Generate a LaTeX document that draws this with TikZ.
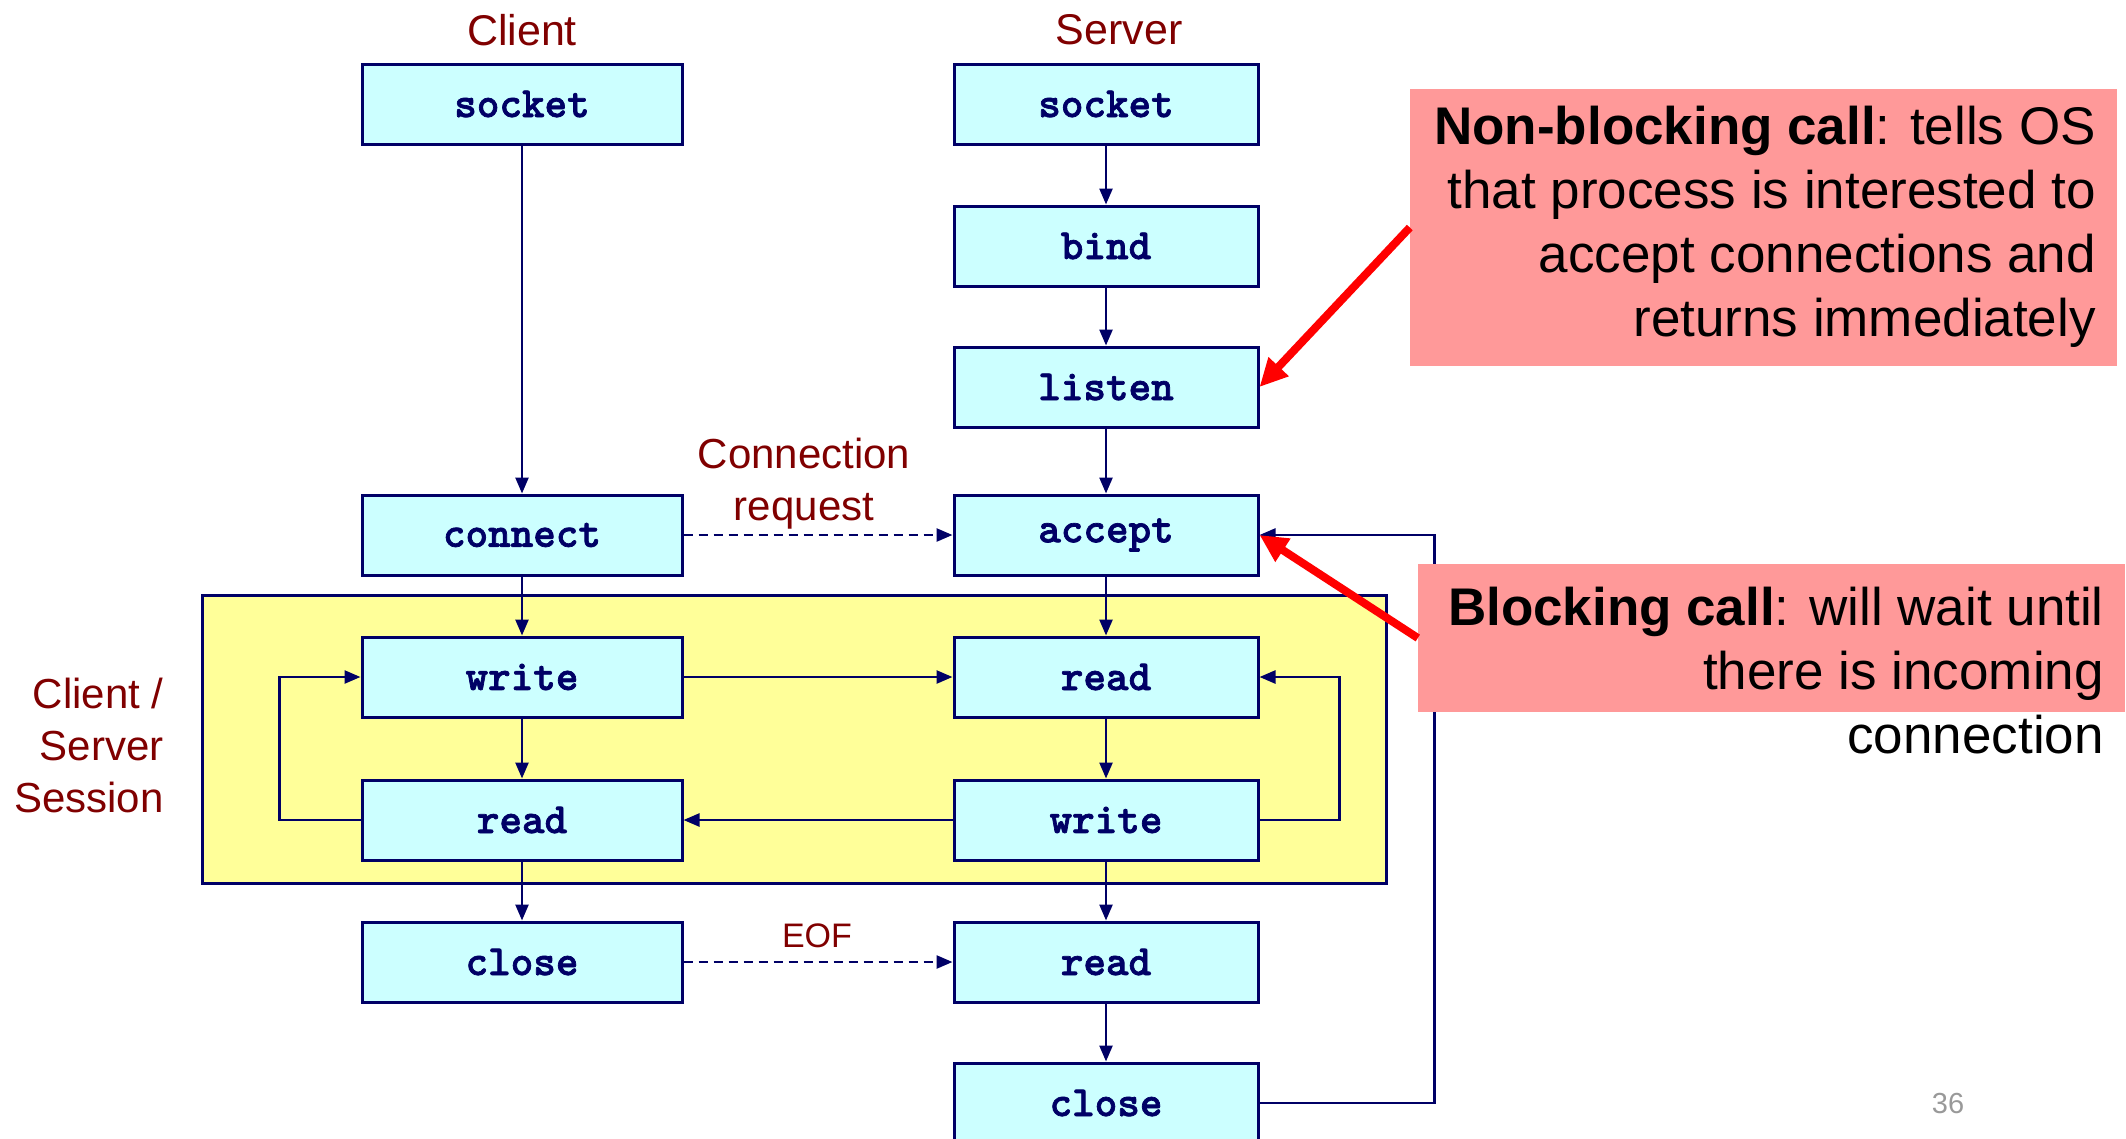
\documentclass[tikz,border=0pt]{standalone}
\usepackage{fontspec}
\setmainfont{Liberation Sans}
\setmonofont{Liberation Mono}
\newfontfamily\codefont{Latin Modern Mono Light}[BoldFeatures={FakeBold=1.6}]
\usetikzlibrary{arrows.meta}
\definecolor{navy}{HTML}{000066}
\definecolor{boxfill}{HTML}{CCFFFF}
\definecolor{sessionfill}{HTML}{FFFF99}
\definecolor{darkred}{HTML}{800000}
\definecolor{calloutfill}{HTML}{FF9999}
\definecolor{pagegray}{HTML}{999999}

\begin{document}
\begin{tikzpicture}[x=1pt,y=-1pt,
  callbox/.style={draw=navy, line width=3pt, fill=boxfill, minimum width=320pt,
    minimum height=80pt, inner sep=0pt, text=navy,
    font=\fontsize{43}{45}\selectfont\codefont\bfseries},
  srvbox/.style={callbox, minimum width=304pt},
  flow/.style={draw=navy, line width=2.5pt, -{Triangle[length=16pt,width=13pt]}},
  msg/.style={flow, dash pattern=on 9pt off 6pt},
  title/.style={text=darkred, font=\fontsize{43}{50}\selectfont},
  note/.style={text=darkred, font=\fontsize{42}{52}\selectfont, align=center},
  callbg/.style={fill=calloutfill, minimum width=707pt, inner sep=0pt},
  callout/.style={font=\fontsize{53}{64}\selectfont, align=right, inner sep=0pt, anchor=east},
  pointer/.style={draw=red, line width=8pt, -{Triangle[length=28pt,width=26pt]}}
]
\useasboundingbox (0,0) rectangle (2126,1138);

% session area behind the exchange loop
\node[draw=navy, line width=3pt, fill=sessionfill, minimum width=1184pt,
  minimum height=288pt, inner sep=0pt] (session) at (794,739) {};

% column headings
\node[title] (clienthead) at (522,30) {Client};
\node[title] (serverhead) at (1119,30) {Server};

% client calls
\node[callbox] (csocket)  at (522,104)  {socket};
\node[callbox] (connect)  at (522,535)  {connect};
\node[callbox] (cwrite)   at (522,677)  {write};
\node[callbox] (cread)    at (522,820)  {read};
\node[callbox] (cclose)   at (522,962)  {close};

% server calls
\node[srvbox] (ssocket) at (1106,104)  {socket};
\node[srvbox] (bind)    at (1106,246)  {bind};
\node[srvbox] (listen)  at (1106,387)  {listen};
\node[srvbox] (accept)  at (1106,535)  {accept};
\node[srvbox] (sread)   at (1106,677)  {read};
\node[srvbox] (swrite)  at (1106,820)  {write};
\node[srvbox] (seof)    at (1106,962)  {read};
\node[srvbox] (sclose)  at (1106,1103) {close};

% labels
\node[note] (connreq) at (804,484) {Connection\\request};
\node[text=darkred, font=\fontsize{34}{40}\selectfont] (eof) at (817,936) {EOF};
\node[note, align=right, anchor=east] (sesslabel) at (167,745) {Client /\\Server\\Session};
\node[text=pagegray, font=\fontsize{29}{34}\selectfont] (pagenum) at (1948,1104) {36};

% client flow
\draw[flow] (csocket) -- (connect);
\draw[flow] (connect) -- (cwrite);
\draw[flow] (cwrite) -- (cread);
\draw[flow] (cread) -- (cclose);
\draw[flow] (cread.west) -- ++(-81,0) |- (cwrite.west);

% server flow
\draw[flow] (ssocket) -- (bind);
\draw[flow] (bind) -- (listen);
\draw[flow] (listen) -- (accept);
\draw[flow] (accept) -- (sread);
\draw[flow] (sread) -- (swrite);
\draw[flow] (swrite) -- (seof);
\draw[flow] (seof) -- (sclose);
\draw[flow] (swrite.east) -- ++(80,0) |- (sread.east);
\draw[flow] (sclose.east) -- ++(175,0) |- (accept.east);

% messages between the two sides
\draw[msg] (connect) -- (accept);
\draw[flow] (cwrite) -- (sread);
\draw[flow] (swrite) -- (cread);
\draw[msg] (cclose) -- (seof);

% callouts
\node[callbg, minimum height=277pt] (nbbg) at (1763.5,227.5) {};
\node[callout] (nonblock) at (2096,226.5)
  {\textbf{Non-blocking call}: tells OS\\that process is interested to\\accept connections and\\returns immediately};
\node[callbg, minimum height=148pt] (bbg) at (1771.5,638) {};
\node[callout] (block) at (2104,671)
  {\textbf{Blocking call}: will wait until\\there is incoming\\connection};

\draw[pointer] (nbbg.west) -- (listen.east);
\draw[pointer] (bbg.west) -- (accept.east);
\end{tikzpicture}
\end{document}
